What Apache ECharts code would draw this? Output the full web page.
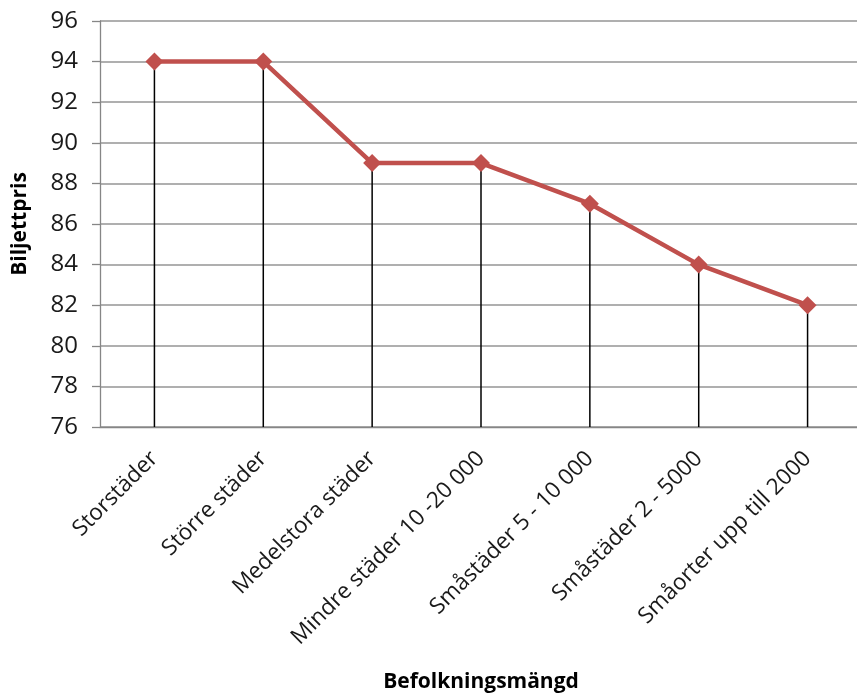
<!DOCTYPE html>
<html>
<head>
<meta charset="utf-8">
<script src="https://cdn.jsdelivr.net/npm/echarts@6/dist/echarts.min.js"></script>
<style>
html,body{margin:0;padding:0;background:#fff;}
#chart{width:857px;height:695px;}
</style>
</head>
<body>
<div id="chart"></div>
<script>
const categories = ["Storstäder", "Större städer", "Medelstora städer", "Mindre städer 10 -20 000", "Småstäder 5 - 10 000", "Småstäder 2 - 5000", "Småorter upp till 2000"];
const prices = [94, 94, 89, 89, 87, 84, 82];
const yMin = 76, yMax = 96, yStep = 2;
const xTitle = "Befolkningsmängd";
const yTitle = "Biljettpris";

const chart = echarts.init(document.getElementById('chart'), null, {renderer: 'canvas'});
const font = "'Open Sans', 'Noto Sans', sans-serif";
chart.setOption({
  animation: false,
  backgroundColor: '#ffffff',
  grid: {left: 100, right: -5, top: 21, bottom: 268, containLabel: false, outerBoundsMode: 'none'},
  xAxis: {
    type: 'category',
    data: categories,
    boundaryGap: true,
    name: xTitle,
    nameLocation: 'middle',
    nameGap: 245,
    nameTextStyle: {fontFamily: font, fontSize: 21, fontWeight: 'bold', color: '#000'},
    axisLine: {show: true, lineStyle: {color: '#868686', width: 1.3}},
    axisTick: {show: false},
    axisLabel: {interval: 0, rotate: 45, margin: 28, fontFamily: font, fontSize: 22.5, color: '#1a1a1a'},
    splitLine: {show: false}
  },
  yAxis: {
    type: 'value',
    min: yMin, max: yMax, interval: yStep,
    name: yTitle,
    nameLocation: 'middle',
    nameGap: 69,
    nameTextStyle: {fontFamily: font, fontSize: 21, fontWeight: 'bold', color: '#000'},
    axisLine: {show: true, lineStyle: {color: '#868686', width: 1.3}},
    axisTick: {show: true, length: 8, lineStyle: {color: '#868686', width: 1.3}},
    axisLabel: {margin: 22, fontFamily: font, fontSize: 24, color: '#1a1a1a'},
    splitLine: {show: true, lineStyle: {color: '#959595', width: 1.5}}
  },
  series: [
    {
      type: 'bar',
      data: prices,
      barWidth: 1.5,
      clip: true,
      itemStyle: {color: '#000'},
      silent: true,
      z: 2
    },
    {
      type: 'line',
      data: prices,
      symbol: 'diamond',
      symbolSize: 18,
      lineStyle: {color: '#C0504D', width: 4.5},
      itemStyle: {color: '#C0504D'},
      z: 3
    }
  ]
});
</script>
</body>
</html>
